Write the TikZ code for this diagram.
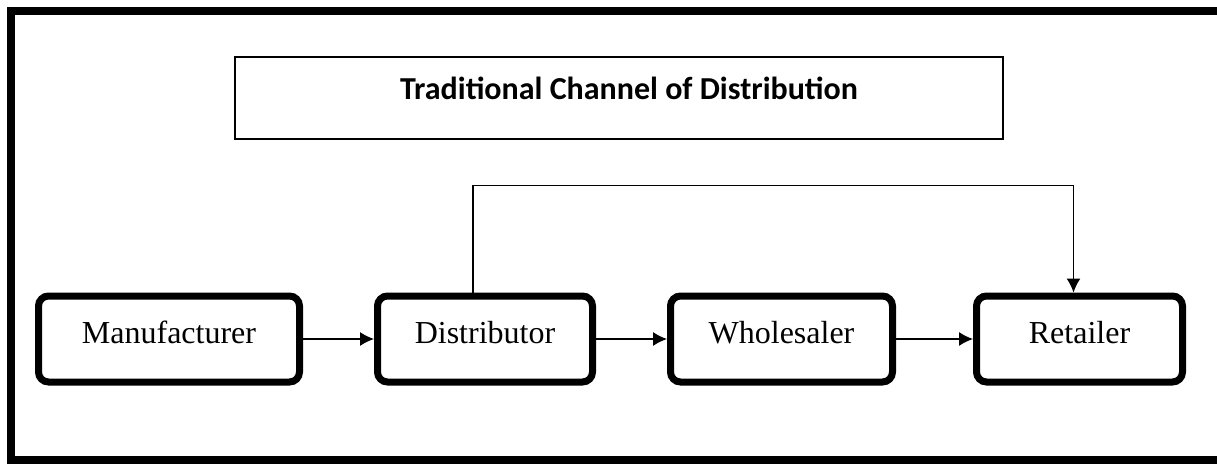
\documentclass[tikz,border=0pt]{standalone}
\usepackage{fontspec}
\setmainfont{Liberation Serif}
\newfontfamily\titlefont{Carlito}
\usetikzlibrary{arrows.meta,calc}

\tikzset{
  stage/.style={draw, line width=7pt, rounded corners=10pt, minimum height=86pt,
    inner sep=0pt, text height=22pt, text depth=14pt,
    font=\fontsize{32}{38}\selectfont},
  flow/.style={-{Latex[length=14pt,width=14pt]}, line width=1.3pt},
}

\begin{document}
\begin{tikzpicture}[x=1pt,y=-1pt]
  \clip (0,0) rectangle (1217,464);
  \draw[line width=8pt] (1230,11) -- (11,11) -- (11,460) -- (1230,460);

  \node[draw, line width=1.5pt, minimum width=768pt, inner xsep=0pt,
    inner ysep=16pt, text height=26pt, text depth=24pt,
    font=\titlefont\bfseries\fontsize{32}{38}\selectfont]
    (title) at (619,98) {\hspace*{20pt}Traditional Channel of Distribution};

  \node[stage, minimum width=261pt] (manu) at (169,339) {Manufacturer};
  \node[stage, minimum width=215pt] (dist) at (485,339) {Distributor};
  \node[stage, minimum width=222pt] (whole) at (781.5,339) {Wholesaler};
  \node[stage, minimum width=206pt] (retail) at (1079.5,339) {Retailer};

  \draw[flow] (manu) -- (dist);
  \draw[flow] (dist) -- (whole);
  \draw[flow] (whole) -- (retail);
  \draw[flow] ($(dist.north)+(-12,0)$) |- ($(retail.north)+(-6,-107)$)
    -- ($(retail.north)+(-6,0)$);
\end{tikzpicture}
\end{document}
